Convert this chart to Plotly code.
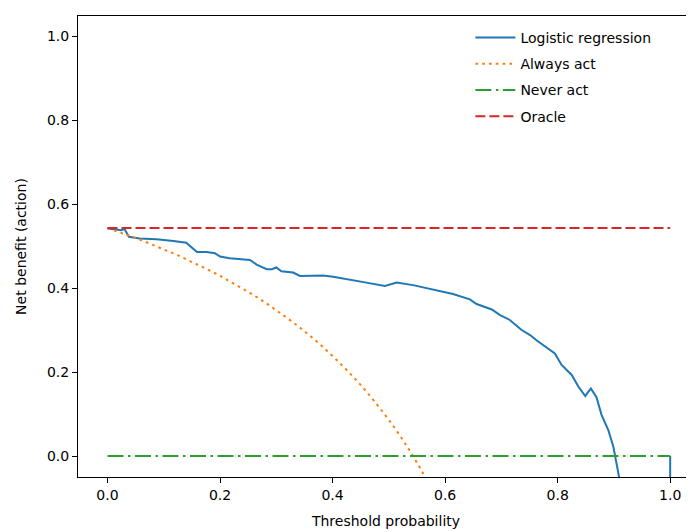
import plotly.graph_objects as go

# Threshold probabilities and net benefit values
lr_x = [0.0, 0.025, 0.03, 0.038, 0.057, 0.087, 0.117, 0.14, 0.159, 0.176, 0.191, 0.20, 0.217,
        0.241, 0.253, 0.265, 0.283, 0.292, 0.30, 0.309, 0.33, 0.342, 0.366, 0.383, 0.401,
        0.431, 0.46, 0.493, 0.514, 0.543, 0.579, 0.614, 0.644, 0.656, 0.683, 0.697, 0.715,
        0.736, 0.751, 0.763, 0.795, 0.807, 0.825, 0.837, 0.849, 0.859, 0.869, 0.878, 0.89,
        0.899, 0.909, 0.93, 0.96, 0.99, 1.0]
lr_y = [0.542, 0.538, 0.541, 0.522, 0.518, 0.516, 0.512, 0.508, 0.486, 0.486, 0.483, 0.475, 0.471,
        0.468, 0.467, 0.456, 0.445, 0.445, 0.449, 0.440, 0.437, 0.429, 0.429, 0.430, 0.427,
        0.419, 0.413, 0.405, 0.413, 0.407, 0.397, 0.386, 0.373, 0.362, 0.349, 0.336, 0.324,
        0.300, 0.288, 0.275, 0.244, 0.217, 0.193, 0.165, 0.143, 0.161, 0.140, 0.098, 0.062,
        0.022, -0.049, -0.25, -0.9, -5.0, 0.0]

always_x = [0.0, 0.025, 0.05, 0.075, 0.1, 0.125, 0.15, 0.175, 0.2, 0.225, 0.25, 0.275, 0.3,
            0.325, 0.35, 0.375, 0.4, 0.425, 0.45, 0.475, 0.5, 0.525, 0.55, 0.575, 0.6]
always_y = [0.543, 0.531, 0.519, 0.506, 0.492, 0.478, 0.462, 0.446, 0.429, 0.410, 0.391, 0.370,
            0.347, 0.323, 0.297, 0.269, 0.238, 0.205, 0.169, 0.129, 0.086, 0.038, -0.016,
            -0.076, -0.143]

never_x = [0.0, 1.0]
never_y = [0.0, 0.0]

oracle_x = [0.0, 1.0]
oracle_y = [0.543, 0.543]

tick_vals = [0, 0.2, 0.4, 0.6, 0.8, 1.0]

fig = go.Figure()
fig.add_trace(go.Scatter(x=lr_x, y=lr_y, mode="lines", name="Logistic regression",
                         legendgroup="a", line=dict(color="#1f77b4", width=2)))
fig.add_trace(go.Scatter(x=always_x, y=always_y, mode="lines", name="Always act",
                         legendgroup="b",
                         line=dict(color="#ff7f0e", width=2, dash="2.7px,4.1px", shape="spline")))
fig.add_trace(go.Scatter(x=never_x, y=never_y, mode="lines", name="Never act",
                         legendgroup="c",
                         line=dict(color="#2ca02c", width=2, dash="16px,4.5px,2.5px,4.5px")))
fig.add_trace(go.Scatter(x=oracle_x, y=oracle_y, mode="lines", name="Oracle",
                         legendgroup="d", line=dict(color="#d62728", width=2, dash="10px,4px")))

# page body has an 8px margin, so the figure is drawn 8px smaller with reduced margins
fig.update_layout(
    width=686, height=524,
    margin=dict(l=70, r=0, t=8, b=55),
    paper_bgcolor="white", plot_bgcolor="white",
    font=dict(family="DejaVu Sans", size=14, color="#000"),
    showlegend=True,
    legend=dict(x=0.637, y=0.987, xanchor="left", yanchor="top",
                bgcolor="rgba(0,0,0,0)", borderwidth=0,
                font=dict(size=14), tracegroupgap=5, itemwidth=40),
)
fig.update_xaxes(range=[-0.0524, 1.0423], tickvals=tick_vals,
                 tickformat=".1f", showgrid=False, zeroline=False, automargin=False,
                 showline=True, linecolor="black", linewidth=1, mirror=True,
                 ticks="outside", ticklen=5, tickcolor="black",
                 title=dict(text="Threshold probability", standoff=14, font=dict(size=14)))
fig.update_yaxes(range=[-0.05, 1.048], tickvals=tick_vals,
                 tickformat=".1f", showgrid=False, zeroline=False, automargin=False,
                 showline=True, linecolor="black", linewidth=1, mirror=False,
                 ticks="outside", ticklen=5, tickcolor="black",
                 title=dict(text="Net benefit (action)", standoff=17, font=dict(size=14)))

fig.write_html("out.html")
